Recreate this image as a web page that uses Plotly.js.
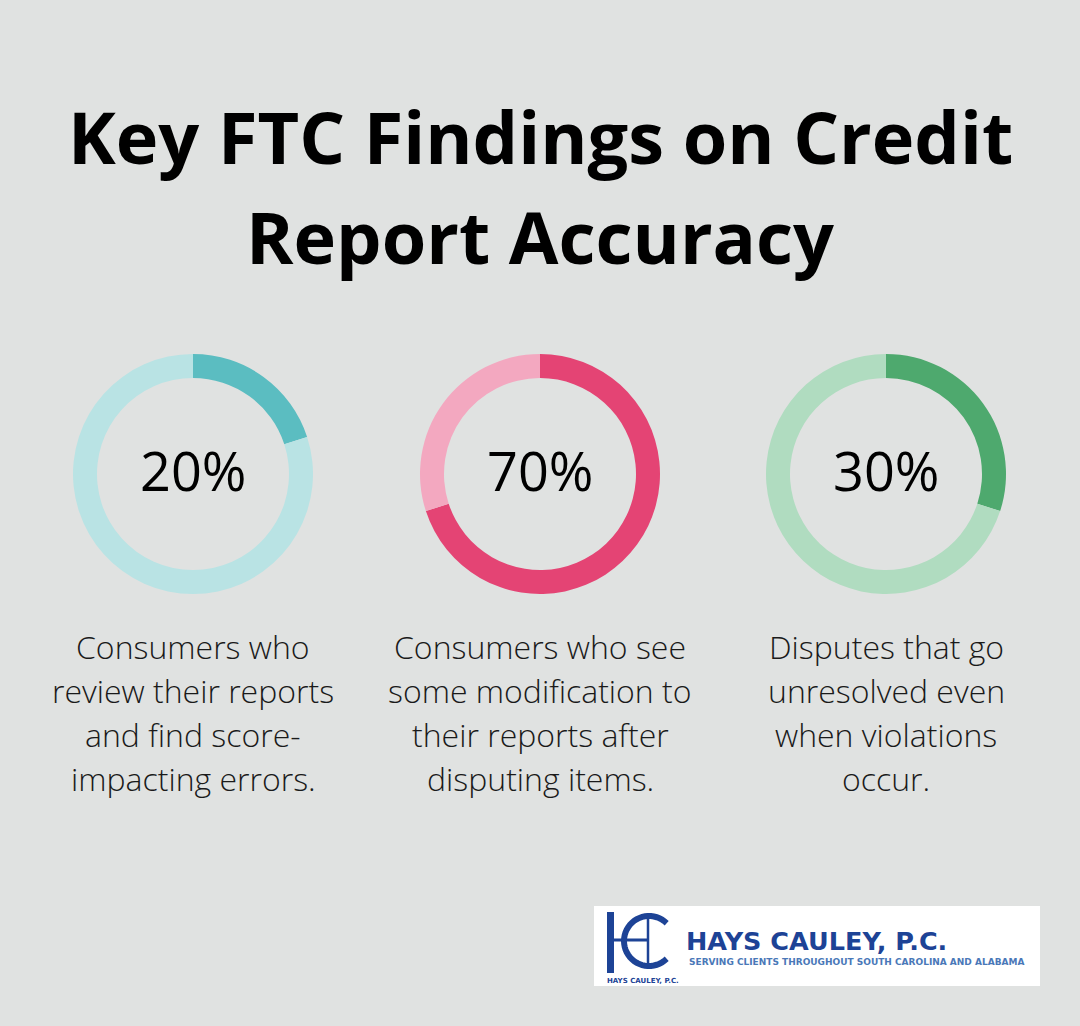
<!DOCTYPE html>
<html>
<head>
<meta charset="utf-8">
<script src="https://cdn.plot.ly/plotly-3.0.1.min.js"></script>
<style>html,body{margin:0;padding:0;background:#e0e2e1;}#chart{width:1080px;height:1026px;}</style>
</head>
<body>
<div id="chart"></div>
<script>
// ---- data ----
const titleLines = ["Key FTC Findings on Credit", "Report Accuracy"];
const percents = [20, 70, 30];
const percentLabels = ["20%", "70%", "30%"];
const descriptions = [
  ["Consumers who", "review their reports", "and find score-", "impacting errors."],
  ["Consumers who see", "some modification to", "their reports after", "disputing items."],
  ["Disputes that go", "unresolved even", "when violations", "occur."]
];
const darkColors = ["#5bbdc1", "#e44474", "#4ea96e"];
const lightColors = ["#b9e3e4", "#f3a8c0", "#b0dcc0"];
const logoName = "HAYS CAULEY, P.C.";
const logoTagline = "SERVING CLIENTS THROUGHOUT SOUTH CAROLINA AND ALABAMA";

// ---- layout helpers ----
const W = 1080, H = 1026;
const px = x => x / W;
const py = y => 1 - y / H;
const centersX = [193, 540, 886];
const centerY = 474, R = 120;

const traces = percents.map((p, i) => ({
  type: "pie",
  values: [p, 100 - p],
  labels: ["a", "b"],
  sort: false,
  direction: "clockwise",
  rotation: 0,
  hole: 0.8,
  textinfo: "none",
  hoverinfo: "skip",
  showlegend: false,
  marker: { colors: [darkColors[i], lightColors[i]], line: { width: 0 } },
  domain: {
    x: [px(centersX[i] - R), px(centersX[i] + R)],
    y: [py(centerY + R), py(centerY - R)]
  }
}));

const annotations = [];
const titleY = [136, 236];
titleLines.forEach((t, i) => annotations.push({
  text: t, x: 0.5, y: py(titleY[i]), xref: "paper", yref: "paper",
  xanchor: "center", yanchor: "middle", showarrow: false,
  font: { family: "Open Sans", size: 72, color: "#000", weight: 700 }
}));
percentLabels.forEach((t, i) => annotations.push({
  text: t, x: px(centersX[i]), y: py(centerY - 4), xref: "paper", yref: "paper",
  xanchor: "center", yanchor: "middle", showarrow: false,
  font: { family: "Open Sans", size: 54, color: "#000", weight: 500 }
}));
descriptions.forEach((lines, i) => lines.forEach((t, j) => annotations.push({
  text: t, x: px(centersX[i]), y: py(646 + 44 * j), xref: "paper", yref: "paper",
  xanchor: "center", yanchor: "middle", showarrow: false,
  font: { family: "Open Sans", size: 32, color: "#1a1a1a", weight: 300 }
})));
// logo texts
annotations.push({
  text: logoName, x: px(684), y: py(941), xref: "paper", yref: "paper",
  xanchor: "left", yanchor: "middle", showarrow: false,
  font: { family: "DejaVu Sans", size: 25.5, color: "#1d4396", weight: 700 }
});
annotations.push({
  text: logoTagline, x: px(687), y: py(962), xref: "paper", yref: "paper",
  xanchor: "left", yanchor: "middle", showarrow: false,
  font: { family: "DejaVu Sans", size: 9, color: "#4a78b8", weight: 700 }
});
annotations.push({
  text: logoName, x: px(605), y: py(981), xref: "paper", yref: "paper",
  xanchor: "left", yanchor: "middle", showarrow: false,
  font: { family: "DejaVu Sans", size: 7, color: "#1d4396", weight: 700 }
});

const blue = "#1d4396";
const shapes = [
  { type: "rect", xref: "paper", yref: "paper", x0: px(594), x1: px(1040), y0: py(986), y1: py(906),
    fillcolor: "#ffffff", line: { width: 0 }, layer: "below" },
  { type: "rect", xref: "paper", yref: "paper", x0: px(607), x1: px(614), y0: py(973), y1: py(912),
    fillcolor: blue, line: { width: 0 } },
  { type: "line", xref: "paper", yref: "paper", x0: px(613), x1: px(648), y0: py(940), y1: py(940),
    line: { color: blue, width: 3 } },
  { type: "line", xref: "paper", yref: "paper", x0: px(648), x1: px(648), y0: py(913), y1: py(969),
    line: { color: blue, width: 2.5 } },
  { type: "path", xref: "paper", yref: "paper",
    path: (() => {
      const cx = 649, cy = 941, r = 25;
      const a0 = -45 * Math.PI / 180, a1 = 45 * Math.PI / 180;
      const p = (a) => `${px(cx + r * Math.cos(a))},${py(cy - r * Math.sin(a))}`;
      let d = "M" + p(a1);
      const n = 40;
      for (let k = 1; k <= n; k++) {
        const a = a1 + (2 * Math.PI - (a1 - a0)) * k / n;
        d += " L" + p(a);
      }
      return d;
    })(),
    line: { color: blue, width: 6 } }
];

const layout = {
  width: W, height: H,
  margin: { l: 0, r: 0, t: 0, b: 0 },
  paper_bgcolor: "#e0e2e1",
  plot_bgcolor: "#e0e2e1",
  annotations, shapes,
  showlegend: false
};
Plotly.newPlot("chart", traces, layout, { displayModeBar: false, staticPlot: true });
</script>
</body>
</html>
